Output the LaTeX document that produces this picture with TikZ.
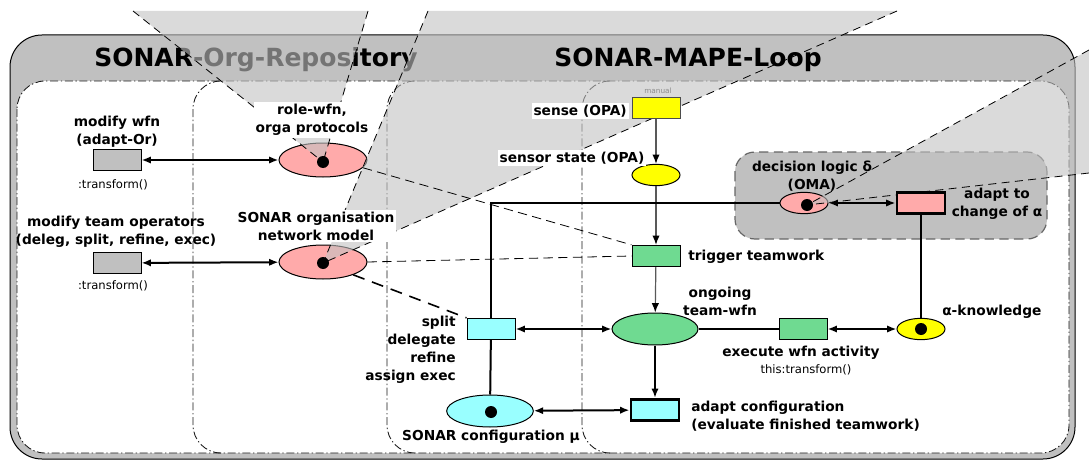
\documentclass[tikz,border=0pt]{standalone}
\usepackage{fontspec}
\setmainfont{DejaVu Sans}
\usetikzlibrary{shapes.geometric,arrows.meta}
\definecolor{bandgray}{RGB}{192,192,192}
\definecolor{pinkc}{RGB}{255,170,170}
\definecolor{yellowc}{RGB}{255,255,0}
\definecolor{greenc}{RGB}{111,218,145}
\definecolor{cyanc}{RGB}{153,255,255}
\definecolor{wedgec}{RGB}{194,194,194}
\begin{document}
\begin{tikzpicture}[x=0.75pt,y=-0.75pt,
  >={Latex[length=7pt,width=5.5pt]},
  lbl/.style={font=\fontsize{10.3}{13.5}\selectfont\bfseries, inner sep=1.5pt, align=center},
  wlbl/.style={lbl, fill=white},
  smalltxt/.style={font=\fontsize{8.7}{10}\selectfont, inner sep=0pt},
  titletxt/.style={font=\fontsize{18.75}{22}\selectfont\bfseries, inner sep=0pt},
  trans/.style={draw=black, line width=0.75pt, rectangle, minimum width=36pt, minimum height=16pt, inner sep=0pt},
  thicktrans/.style={trans, line width=2.2pt},
  place/.style={draw=black, line width=0.75pt, ellipse, inner sep=0pt},
  token/.style={circle, fill=black, minimum size=9pt, inner sep=0pt},
  plainarc/.style={line width=1.5pt},
  arc/.style={line width=1.5pt, ->},
  darc/.style={line width=1.5pt, <->},
  garc/.style={line width=0.9pt, draw=black!65, -{Latex[length=7pt,width=5.5pt,color=black]}},
  conn/.style={line width=0.6pt, dash pattern=on 7pt off 4pt},
  wedgeedge/.style={line width=0.6pt, dash pattern=on 6pt off 4pt},
  wedgefill/.style={fill=wedgec, opacity=0.6},
  region/.style={draw=black!90, line width=0.65pt, dash pattern=on 6pt off 2pt on 1pt off 2pt, rounded corners=21pt}
]
\useasboundingbox (0,0) rectangle (1089,460);

% frames
\draw[fill=bandgray, line width=0.75pt, rounded corners=24pt] (10,35) rectangle (1075,459);
\draw[region, fill=white] (17,81) rectangle (1069,453);
\foreach \xx in {193,387,582}
  \draw[region] ({\xx+28},81) -- (\xx,81) -- (\xx,453) -- ({\xx+28},453);
\draw[fill=bandgray, draw=black!60, dash pattern=on 7pt off 4pt, line width=0.9pt, rounded corners=15pt] (735,152) rectangle (1047,239);

\node[titletxt] (orgtitle) at (256,60) {SONAR-Org-Repository};

% places below the callout wedges
\node[place, fill=pinkc, minimum width=66pt, minimum height=25.5pt] (rolewfn) at (323,160) {};
\node[place, fill=pinkc, minimum width=66pt, minimum height=25.5pt] (orgnet) at (323,262) {};
\node[place, fill=pinkc, minimum width=36pt, minimum height=16pt] (oma) at (804,203) {};

% callout wedges
\coordinate (k1) at (323,162);
\coordinate (k2) at (323,263);
\coordinate (k3) at (807,205);
\coordinate (w1a) at (133,11);
\coordinate (w1b) at (368,11);
\coordinate (w2a) at (428,11);
\coordinate (w2b) at (897,11);
\coordinate (w3a) at (1089,50);
\coordinate (w3b) at (1089,173);
\fill[wedgefill] (w1a) -- (w1b) -- (k1) -- cycle;
\fill[wedgefill] (w2a) -- (w2b) -- (k2) -- cycle;
\fill[wedgefill] (w3a) -- (w3b) -- (k3) -- cycle;
\draw[wedgeedge] (w1a) -- (k1);
\draw[wedgeedge] (w1b) -- (k1);
\draw[wedgeedge] (w2a) -- (k2);
\draw[wedgeedge] (w2b) -- (k2);
\draw[wedgeedge] (w3a) -- (k3);
\draw[wedgeedge] (w3b) -- (k3);

\node[token] (tok1) at (k1) {};
\node[token] (tok2) at (k2) {};
\node[token] (tok3) at (k3) {};

\node[titletxt] (mapetitle) at (688,60) {SONAR-MAPE-Loop};

% other nodes
\node[trans, fill=bandgray] (t1) at (117,160) {};
\node[trans, fill=bandgray] (t2) at (117,263) {};
\node[trans, fill=yellowc, draw=black!70] (sense) at (656,108) {};
\node[place, fill=yellowc, minimum width=36pt, minimum height=16pt] (sensor) at (656,175) {};
\node[trans, fill=greenc] (trigger) at (656,256) {};
\node[place, fill=greenc, minimum width=64.5pt, minimum height=24pt] (ongoing) at (655,329) {};
\node[trans, fill=cyanc] (split) at (491,329) {};
\node[place, fill=cyanc, minimum width=65pt, minimum height=24pt] (config) at (490,411) {};
\node[token] (tok4) at (491,412) {};
\node[thicktrans, fill=cyanc] (adaptconf) at (655,410) {};
\node[trans, fill=greenc] (exec) at (803,329) {};
\node[place, fill=yellowc, minimum width=36pt, minimum height=16pt] (alpha) at (921,329) {};
\node[token] (tok5) at (921,329) {};
\node[thicktrans, fill=pinkc] (adaptalpha) at (921,203) {};

% connectors
\draw[conn] (rolewfn.-11) -- (trigger.north west);
\draw[conn] (orgnet.east) -- (trigger.west);
\draw[line width=1.2pt, dash pattern=on 9pt off 6pt] (orgnet.-23) -- (split.north west);
\draw[darc] (t1) -- (rolewfn);
\draw[darc] (t2) -- (orgnet);
\draw[garc] (sense) -- (sensor);
\draw[garc] (sensor) -- (trigger);
\draw[garc] (trigger) -- (ongoing);
\draw[darc] (split) -- (ongoing);
\draw[darc] (config) -- (adaptconf);
\draw[arc] (ongoing) -- (adaptconf);
\draw[plainarc] (ongoing) -- (exec);
\draw[darc] (exec) -- (alpha);
\draw[plainarc] (alpha) -- (adaptalpha);
\draw[darc] (oma) -- (adaptalpha);
\draw[plainarc] (split) -- (config);
\draw[plainarc] (split.north) |- (oma.west);

% labels
\node[lbl] (lt1) at (117,132) {modify wfn\\(adapt-Or)};
\node[smalltxt] (lt1b) at (113,185) {:transform()};
\node[lbl] (lt2) at (116,232) {modify team operators\\(deleg, split, refine, exec)};
\node[smalltxt] (lt2b) at (113,286) {:transform()};
\node[wlbl] (lrole) at (312,120) {role-wfn,\\orga protocols};
\node[wlbl] (lorg) at (316,226) {SONAR organisation\\network model};
\node[wlbl, anchor=east] (lsense) at (629,111) {sense (OPA)};
\node[font=\fontsize{5.5}{6}\selectfont, text=black!45, inner sep=0pt] (lmanual) at (658,91) {manual};
\node[wlbl] (lsensor) at (572,158) {sensor state (OPA)};
\node[lbl, anchor=west] (ltrigger) at (686,257) {trigger teamwork};
\node[lbl] (longoing) at (720,301) {ongoing\\team-wfn};
\node[lbl, align=right, anchor=east] (lsplit) at (458,350) {split\\delegate\\refine\\assign exec};
\node[lbl] (lconfig) at (491,437) {SONAR configuration μ};
\node[lbl, align=left, anchor=west] (ladapt) at (689,416) {adapt configuration\\(evaluate finished teamwork)};
\node[lbl] (lexec) at (801,353) {execute wfn activity};
\node[smalltxt] (lexec2) at (806,370) {this:transform()};
\node[lbl, anchor=west] (lalpha) at (940,312) {α-knowledge};
\node[lbl] (ladaptalpha) at (997,204) {adapt to\\change of α};
\node[lbl] (ldecision) at (812,176) {decision logic δ\\(OMA)};
\end{tikzpicture}
\end{document}
